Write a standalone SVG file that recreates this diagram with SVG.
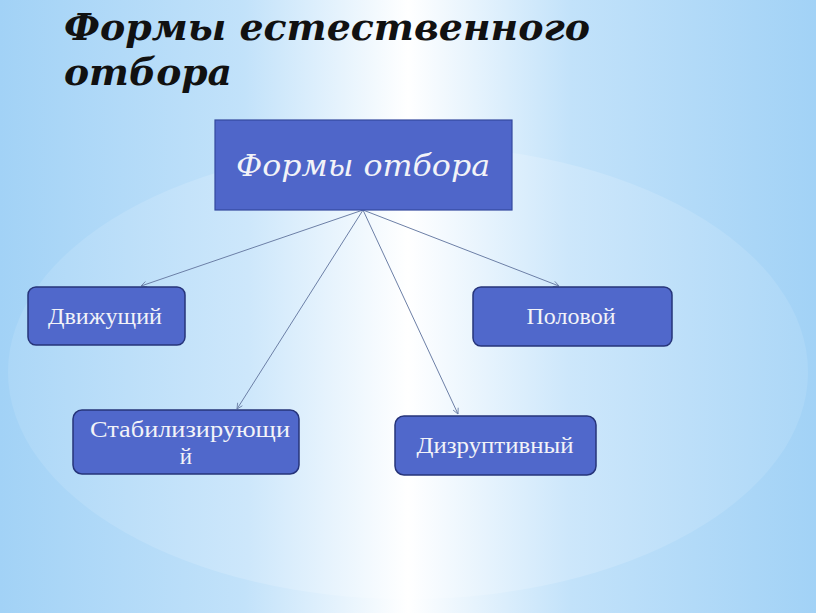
<svg xmlns="http://www.w3.org/2000/svg" width="816" height="613" viewBox="0 0 816 613">
<defs>
<linearGradient id="bgOuter" x1="0" y1="0" x2="1" y2="0">
<stop offset="0" stop-color="#a2d2f6"/>
<stop offset="0.3" stop-color="#c2e2fa"/>
<stop offset="0.5" stop-color="#ffffff"/>
<stop offset="0.7" stop-color="#c2e2fa"/>
<stop offset="1" stop-color="#a2d2f6"/>
</linearGradient>
<linearGradient id="bgInner" x1="0" y1="0" x2="1" y2="0">
<stop offset="0" stop-color="#acd7f7"/>
<stop offset="0.3" stop-color="#cde7fb"/>
<stop offset="0.5" stop-color="#ffffff"/>
<stop offset="0.7" stop-color="#cde7fb"/>
<stop offset="1" stop-color="#acd7f7"/>
</linearGradient>
<radialGradient id="glow" cx="0.5" cy="1" r="0.5">
<stop offset="0" stop-color="#ffffff" stop-opacity="0.9"/>
<stop offset="1" stop-color="#ffffff" stop-opacity="0"/>
</radialGradient>
<marker id="arr" viewBox="0 0 10 10" refX="9" refY="5" markerWidth="7" markerHeight="7" orient="auto" markerUnits="userSpaceOnUse">
<path d="M1,1 L9,5 L1,9" fill="none" stroke="#6c7fa6" stroke-width="1.2"/>
</marker>
</defs>
<style>
.title{font-family:"DejaVu Serif","Liberation Serif",serif;font-weight:bold;font-style:italic;fill:#111111;}
.main{fill:#4f66c9;stroke:#34489e;stroke-width:1.2;}
.node{fill:#5068cb;stroke:#26347a;stroke-width:1.5;}
.mainlbl{font-family:"DejaVu Serif","Liberation Serif",serif;font-style:italic;font-size:29px;fill:#f2f3f8;}
.lbl{font-family:"Liberation Serif","DejaVu Serif",serif;font-size:23px;fill:#f2f3f8;}
.conn{stroke:#6c7fa6;stroke-width:1;fill:none;marker-end:url(#arr);}
</style>
<rect x="0" y="0" width="816" height="613" fill="url(#bgOuter)"/>
<ellipse cx="408" cy="372" rx="400" ry="227" fill="url(#bgInner)"/>
<ellipse cx="408" cy="613" rx="70" ry="18" fill="url(#glow)"/>
<g id="title">
<text class="title" x="64" y="40" font-size="37" textLength="526" lengthAdjust="spacingAndGlyphs">Формы естественного</text>
<text class="title" x="64" y="85" font-size="37" textLength="168" lengthAdjust="spacingAndGlyphs">отбора</text>
</g>
<g id="connectors">
<line class="conn" x1="363" y1="210" x2="141" y2="286"/>
<line class="conn" x1="363" y1="210" x2="559" y2="286"/>
<line class="conn" x1="363" y1="210" x2="237" y2="409"/>
<line class="conn" x1="363" y1="210" x2="458" y2="414"/>
</g>
<g id="n-main">
<rect class="main" x="215" y="120" width="297" height="90"/>
<text class="mainlbl" x="363" y="176" text-anchor="middle" textLength="254" lengthAdjust="spacingAndGlyphs">Формы отбора</text>
</g>
<g id="n-dvizh">
<rect class="node" x="28" y="287" width="157" height="58" rx="8"/>
<text class="lbl" x="105" y="324" text-anchor="middle" textLength="114" lengthAdjust="spacingAndGlyphs">Движущий</text>
</g>
<g id="n-polov">
<rect class="node" x="473" y="287" width="199" height="59" rx="8"/>
<text class="lbl" x="571" y="324" text-anchor="middle" textLength="89" lengthAdjust="spacingAndGlyphs">Половой</text>
</g>
<g id="n-stab">
<rect class="node" x="73" y="410" width="226" height="64" rx="9"/>
<text class="lbl" x="190" y="437" text-anchor="middle" textLength="200" lengthAdjust="spacingAndGlyphs">Стабилизирующи</text>
<text class="lbl" x="186" y="464" text-anchor="middle">й</text>
</g>
<g id="n-dizr">
<rect class="node" x="395" y="416" width="201" height="59" rx="9"/>
<text class="lbl" x="495" y="453" text-anchor="middle" textLength="157" lengthAdjust="spacingAndGlyphs">Дизруптивный</text>
</g>
</svg>
